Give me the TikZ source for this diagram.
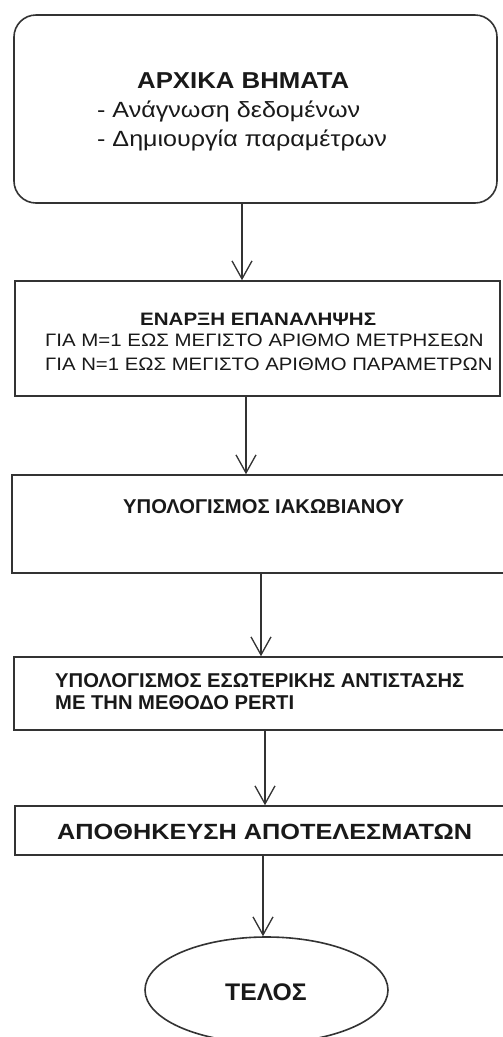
\documentclass[tikz,border=0pt]{standalone}
\usepackage{fontspec}
\setmainfont{Liberation Sans}
\usepackage{graphicx}
\usetikzlibrary{arrows.meta,shapes.geometric}
\newcommand{\fsz}[1]{\fontsize{#1}{#1}\selectfont}
\newcommand{\hx}[2]{\scalebox{#1}[1]{#2}}
\begin{document}
\begin{tikzpicture}[x=1pt,y=-1pt,
  box/.style={draw=black!80, line width=1.6pt, inner sep=0pt},
  arr/.style={draw=black!80, line width=1.3pt, -{Straight Barb[length=18pt,width=20pt,line width=1.3pt]}},
  lbl/.style={inner sep=0pt, anchor=base west, text=black!90},
]
\useasboundingbox (0,0) rectangle (503,1037);
\fill[white] (0,0) rectangle (503,1037);
% boxes
\node[box, rounded corners=22pt, minimum width=483pt, minimum height=188pt] (b1) at (255.5,109) {};
\node[box, minimum width=485pt, minimum height=115pt] (b2) at (257.5,338.5) {};
\node[box, minimum width=496pt, minimum height=98pt] (b3) at (260,524) {};
\node[box, minimum width=494pt, minimum height=73pt] (b4) at (261,693.5) {};
\node[box, minimum width=494pt, minimum height=49pt] (b5) at (262,830.5) {};
\node[box, ellipse, minimum width=243pt, minimum height=106pt] (e) at (266.5,990) {};
% texts
\node[lbl] (t1a) at (137,88) {\fsz{23}\bfseries\hx{1.12}{ΑΡΧΙΚΑ ΒΗΜΑΤΑ}};
\node[lbl] (t1b) at (97,117) {\fsz{22}\hx{1.14}{- Ανάγνωση δεδομένων}};
\node[lbl] (t1c) at (97,146) {\fsz{22}\hx{1.14}{- Δημιουργία παραμέτρων}};
\node[lbl] (t2a) at (140,325) {\fsz{18}\bfseries\hx{1.14}{ΕΝΑΡΞΗ ΕΠΑΝΑΛΗΨΗΣ}};
\node[lbl] (t2b) at (45,346) {\fsz{18}\hx{1.135}{ΓΙΑ Μ=1 ΕΩΣ ΜΕΓΙΣΤΟ ΑΡΙΘΜΟ ΜΕΤΡΗΣΕΩΝ}};
\node[lbl] (t2c) at (45,370) {\fsz{18}\hx{1.13}{ΓΙΑ Ν=1 ΕΩΣ ΜΕΓΙΣΤΟ ΑΡΙΘΜΟ ΠΑΡΑΜΕΤΡΩΝ}};
\node[lbl] (t3) at (123,513) {\fsz{20}\bfseries\hx{1.01}{ΥΠΟΛΟΓΙΣΜΟΣ ΙΑΚΩΒΙΑΝΟΥ}};
\node[lbl] (t4a) at (55,687) {\fsz{20}\bfseries\hx{1.01}{ΥΠΟΛΟΓΙΣΜΟΣ ΕΣΩΤΕΡΙΚΗΣ ΑΝΤΙΣΤΑΣΗΣ}};
\node[lbl] (t4b) at (55,709) {\fsz{20}\bfseries\hx{1.01}{ΜΕ ΤΗΝ ΜΕΘΟΔΟ PERTI}};
\node[lbl] (t5) at (57,839) {\fsz{22}\bfseries\hx{1.15}{ΑΠΟΘΗΚΕΥΣΗ ΑΠΟΤΕΛΕΣΜΑΤΩΝ}};
\node[lbl] (t6) at (225,1000) {\fsz{24}\bfseries\hx{1.03}{ΤΕΛΟΣ}};
% connectors
\coordinate (a1) at (242,0);
\coordinate (a2) at (246,0);
\coordinate (a3) at (261,0);
\coordinate (a4) at (265,0);
\coordinate (a5) at (263,0);
\draw[arr] (b1.south -| a1) -- (b2.north -| a1);
\draw[arr] (b2.south -| a2) -- (b3.north -| a2);
\draw[arr] (b3.south -| a3) -- (b4.north -| a3);
\draw[arr] (b4.south -| a4) -- (b5.north -| a4);
\draw[arr] (b5.south -| a5) -- (e.north -| a5);
\end{tikzpicture}
\end{document}
